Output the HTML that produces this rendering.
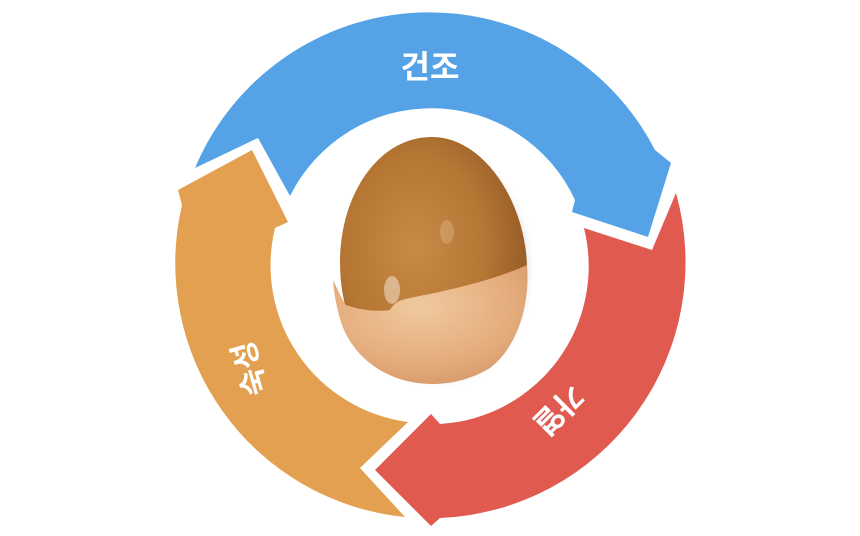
<!DOCTYPE html>
<html><head><meta charset="utf-8"><style>
html,body{margin:0;padding:0;background:#fff;}
svg{display:block;}
text{font-family:"Liberation Sans","Noto Sans CJK KR","NanumGothic",sans-serif;font-weight:bold;fill:#fff;}
</style></head><body>
<svg width="860" height="536" viewBox="0 0 860 536" xmlns="http://www.w3.org/2000/svg">
<defs>
<radialGradient id="egg" cx="0.4" cy="0.45" r="0.7">
<stop offset="0" stop-color="#c98a48"/><stop offset="0.55" stop-color="#b57634"/><stop offset="1" stop-color="#8a5220"/>
</radialGradient>
<radialGradient id="shell" cx="0.45" cy="0.35" r="0.8">
<stop offset="0" stop-color="#f0c9a0"/><stop offset="0.6" stop-color="#e4ac7c"/><stop offset="1" stop-color="#cf9062"/>
</radialGradient>
<radialGradient id="shadow" cx="0.5" cy="0.5" r="0.5">
<stop offset="0.85" stop-color="#bbb" stop-opacity="0.5"/><stop offset="1" stop-color="#fff" stop-opacity="0"/>
</radialGradient>
</defs>
<path fill="#55a3e6" d="M195,168 L258,138 L290,196 A158,158 0 0 1 575,200 L572,212 L648,237 L671,163 L655,150 A254,254 0 0 0 195,168 Z"/>
<path fill="#e05a50" d="M676,193 A256,256 0 0 1 440,518 L431,526 L375,470 L431,414 L440,424 A158,158 0 0 0 584,228 L652,250 Z"/>
<path fill="#e2a050" d="M405,517 L360,468 L408,422 A158,158 0 0 1 275,228 L288,222 L252,150 L178,190 L182,205 A255,255 0 0 0 405,517 Z"/>
<text x="430" y="78" font-size="32" text-anchor="middle">건조</text>
<text transform="translate(252,368) rotate(-106)" font-size="30" text-anchor="middle" dominant-baseline="middle">숙성</text>
<text transform="translate(557,408) rotate(135)" font-size="30" text-anchor="middle" dominant-baseline="middle">가열</text>
<ellipse cx="442" cy="268" rx="95" ry="124" fill="url(#shadow)"/>
<path fill="url(#egg)" d="M432,137 C485,137 527,205 527,270 C527,340 485,383 432,383 C378,383 340,335 340,262 C340,195 378,137 432,137 Z"/>
<path fill="url(#shell)" d="M333,280 C338,290 342,300 346,305 C360,310 375,312 390,310 C396,300 402,300 410,298 C440,292 490,282 527,265 C530,300 520,345 490,368 C470,380 450,384 432,384 C390,384 355,360 342,325 C337,310 334,295 333,280 Z"/>
<ellipse cx="392" cy="290" rx="8" ry="14" fill="#f4e2d0" opacity="0.55"/>
<ellipse cx="447" cy="232" rx="7" ry="12" fill="#e0b890" opacity="0.4"/>
</svg>
</body></html>
